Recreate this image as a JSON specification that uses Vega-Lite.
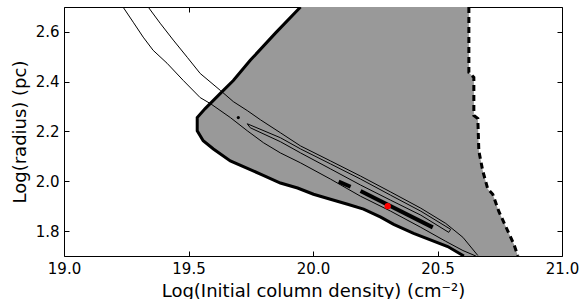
{
  "$schema": "https://vega.github.io/schema/vega-lite/v6.json",
  "width": 498,
  "height": 249,
  "autosize": "none",
  "padding": {"left": 64, "top": 7, "right": 26, "bottom": 43},
  "background": "white",
  "config": {
    "view": {"stroke": null},
    "font": "DejaVu Sans",
    "axis": {
      "labelFont": "DejaVu Sans", "labelFontSize": 15, "labelColor": "black",
      "titleFont": "DejaVu Sans", "titleFontSize": 18, "titleFontWeight": "normal", "titleColor": "black",
      "tickColor": "black", "tickSize": -5, "tickWidth": 1,
      "domainColor": "black", "domainWidth": 1, "grid": false,
      "labelPadding": 10, "labelFlush": false, "labelOverlap": false, "zindex": 1
    }
  },
  "datasets": {
    "region": [
      {"o": 1, "x": 19.950, "y": 2.700},
      {"o": 2, "x": 20.626, "y": 2.700},
      {"o": 3, "x": 20.626, "y": 2.437},
      {"o": 4, "x": 20.646, "y": 2.417},
      {"o": 5, "x": 20.646, "y": 2.264},
      {"o": 6, "x": 20.662, "y": 2.252},
      {"o": 7, "x": 20.666, "y": 2.122},
      {"o": 8, "x": 20.682, "y": 2.041},
      {"o": 9, "x": 20.702, "y": 1.969},
      {"o": 10, "x": 20.722, "y": 1.948},
      {"o": 11, "x": 20.746, "y": 1.880},
      {"o": 12, "x": 20.783, "y": 1.799},
      {"o": 13, "x": 20.807, "y": 1.747},
      {"o": 14, "x": 20.823, "y": 1.700},
      {"o": 15, "x": 20.606, "y": 1.700},
      {"o": 16, "x": 20.541, "y": 1.738},
      {"o": 17, "x": 20.404, "y": 1.791},
      {"o": 18, "x": 20.324, "y": 1.827},
      {"o": 19, "x": 20.272, "y": 1.856},
      {"o": 20, "x": 20.203, "y": 1.888},
      {"o": 21, "x": 20.139, "y": 1.908},
      {"o": 22, "x": 20.070, "y": 1.928},
      {"o": 23, "x": 20.002, "y": 1.948},
      {"o": 24, "x": 19.938, "y": 1.973},
      {"o": 25, "x": 19.869, "y": 1.993},
      {"o": 26, "x": 19.789, "y": 2.029},
      {"o": 27, "x": 19.668, "y": 2.082},
      {"o": 28, "x": 19.600, "y": 2.130},
      {"o": 29, "x": 19.559, "y": 2.163},
      {"o": 30, "x": 19.535, "y": 2.203},
      {"o": 31, "x": 19.535, "y": 2.256},
      {"o": 32, "x": 19.567, "y": 2.292},
      {"o": 33, "x": 19.628, "y": 2.353},
      {"o": 34, "x": 19.680, "y": 2.405},
      {"o": 35, "x": 19.748, "y": 2.486},
      {"o": 36, "x": 19.849, "y": 2.595}
    ],
    "solid": [
      {"o": 1, "x": 19.950, "y": 2.700},
      {"o": 2, "x": 19.849, "y": 2.595},
      {"o": 3, "x": 19.748, "y": 2.486},
      {"o": 4, "x": 19.680, "y": 2.405},
      {"o": 5, "x": 19.628, "y": 2.353},
      {"o": 6, "x": 19.567, "y": 2.292},
      {"o": 7, "x": 19.535, "y": 2.256},
      {"o": 8, "x": 19.535, "y": 2.203},
      {"o": 9, "x": 19.559, "y": 2.163},
      {"o": 10, "x": 19.600, "y": 2.130},
      {"o": 11, "x": 19.668, "y": 2.082},
      {"o": 12, "x": 19.789, "y": 2.029},
      {"o": 13, "x": 19.869, "y": 1.993},
      {"o": 14, "x": 19.938, "y": 1.973},
      {"o": 15, "x": 20.002, "y": 1.948},
      {"o": 16, "x": 20.070, "y": 1.928},
      {"o": 17, "x": 20.139, "y": 1.908},
      {"o": 18, "x": 20.203, "y": 1.888},
      {"o": 19, "x": 20.272, "y": 1.856},
      {"o": 20, "x": 20.324, "y": 1.827},
      {"o": 21, "x": 20.404, "y": 1.791},
      {"o": 22, "x": 20.541, "y": 1.738},
      {"o": 23, "x": 20.606, "y": 1.700}
    ],
    "dashed": [
      {"o": 1, "x": 20.626, "y": 2.700},
      {"o": 2, "x": 20.626, "y": 2.437},
      {"o": 3, "x": 20.646, "y": 2.417},
      {"o": 4, "x": 20.646, "y": 2.264},
      {"o": 5, "x": 20.662, "y": 2.252},
      {"o": 6, "x": 20.666, "y": 2.122},
      {"o": 7, "x": 20.682, "y": 2.041},
      {"o": 8, "x": 20.702, "y": 1.969},
      {"o": 9, "x": 20.722, "y": 1.948},
      {"o": 10, "x": 20.746, "y": 1.880},
      {"o": 11, "x": 20.783, "y": 1.799},
      {"o": 12, "x": 20.807, "y": 1.747},
      {"o": 13, "x": 20.823, "y": 1.700}
    ],
    "contours": [
      {"id": "B", "o": 1, "x": 19.338, "y": 2.700},
      {"id": "B", "o": 2, "x": 19.386, "y": 2.635},
      {"id": "B", "o": 3, "x": 19.439, "y": 2.567},
      {"id": "B", "o": 4, "x": 19.495, "y": 2.498},
      {"id": "B", "o": 5, "x": 19.547, "y": 2.433},
      {"id": "B", "o": 6, "x": 19.628, "y": 2.365},
      {"id": "B", "o": 7, "x": 19.680, "y": 2.320},
      {"id": "B", "o": 8, "x": 19.736, "y": 2.284},
      {"id": "B", "o": 9, "x": 19.789, "y": 2.247},
      {"id": "B", "o": 10, "x": 19.869, "y": 2.195},
      {"id": "B", "o": 11, "x": 19.950, "y": 2.142},
      {"id": "B", "o": 12, "x": 20.070, "y": 2.082},
      {"id": "B", "o": 13, "x": 20.191, "y": 2.021},
      {"id": "B", "o": 14, "x": 20.312, "y": 1.957},
      {"id": "B", "o": 15, "x": 20.433, "y": 1.892},
      {"id": "B", "o": 16, "x": 20.533, "y": 1.831},
      {"id": "B", "o": 17, "x": 20.602, "y": 1.775},
      {"id": "B", "o": 18, "x": 20.662, "y": 1.702},
      {"id": "A", "o": 1, "x": 19.237, "y": 2.700},
      {"id": "A", "o": 2, "x": 19.278, "y": 2.639},
      {"id": "A", "o": 3, "x": 19.318, "y": 2.579},
      {"id": "A", "o": 4, "x": 19.358, "y": 2.526},
      {"id": "A", "o": 5, "x": 19.414, "y": 2.474},
      {"id": "A", "o": 6, "x": 19.479, "y": 2.405},
      {"id": "A", "o": 7, "x": 19.547, "y": 2.336},
      {"id": "A", "o": 8, "x": 19.588, "y": 2.312},
      {"id": "A", "o": 9, "x": 19.668, "y": 2.256},
      {"id": "A", "o": 10, "x": 19.736, "y": 2.203},
      {"id": "A", "o": 11, "x": 19.801, "y": 2.155},
      {"id": "A", "o": 12, "x": 19.869, "y": 2.114},
      {"id": "A", "o": 13, "x": 19.950, "y": 2.074},
      {"id": "A", "o": 14, "x": 20.070, "y": 2.009},
      {"id": "A", "o": 15, "x": 20.191, "y": 1.940},
      {"id": "A", "o": 16, "x": 20.312, "y": 1.880},
      {"id": "A", "o": 17, "x": 20.433, "y": 1.815},
      {"id": "A", "o": 18, "x": 20.533, "y": 1.759},
      {"id": "A", "o": 19, "x": 20.602, "y": 1.722},
      {"id": "A", "o": 20, "x": 20.654, "y": 1.700},
      {"id": "P", "o": 1, "x": 19.736, "y": 2.231},
      {"id": "P", "o": 2, "x": 19.869, "y": 2.175},
      {"id": "P", "o": 3, "x": 19.950, "y": 2.130},
      {"id": "P", "o": 4, "x": 20.070, "y": 2.070},
      {"id": "P", "o": 5, "x": 20.191, "y": 2.009},
      {"id": "P", "o": 6, "x": 20.312, "y": 1.944},
      {"id": "P", "o": 7, "x": 20.433, "y": 1.880},
      {"id": "P", "o": 8, "x": 20.553, "y": 1.807},
      {"id": "P", "o": 9, "x": 20.545, "y": 1.795},
      {"id": "P", "o": 10, "x": 20.433, "y": 1.864},
      {"id": "P", "o": 11, "x": 20.312, "y": 1.924},
      {"id": "P", "o": 12, "x": 20.191, "y": 1.985},
      {"id": "P", "o": 13, "x": 20.070, "y": 2.050},
      {"id": "P", "o": 14, "x": 19.950, "y": 2.114},
      {"id": "P", "o": 15, "x": 19.869, "y": 2.159},
      {"id": "P", "o": 16, "x": 19.748, "y": 2.215},
      {"id": "P", "o": 17, "x": 19.736, "y": 2.231}
    ],
    "blobs": [
      {"id": "s1", "o": 1, "x": 20.103, "y": 1.999},
      {"id": "s1", "o": 2, "x": 20.151, "y": 1.978},
      {"id": "s2", "o": 1, "x": 20.191, "y": 1.961},
      {"id": "s2", "o": 2, "x": 20.481, "y": 1.815}
    ],
    "dots": [{"x": 19.700, "y": 2.256}],
    "best": [{"x": 20.3, "y": 1.9}]
  },
  "layer": [
    {
      "data": {"name": "region"},
      "mark": {"type": "line", "fill": "#999999", "stroke": null, "strokeWidth": 0, "clip": true},
      "encoding": {
        "x": {"field": "x", "type": "quantitative", "scale": {"domain": [19, 21], "nice": false, "zero": false},
              "axis": {"orient": "bottom", "values": [19, 19.5, 20, 20.5, 21], "format": ".1f", "title": "Log(Initial column density) (cm⁻²)", "titlePadding": 6}},
        "y": {"field": "y", "type": "quantitative", "scale": {"domain": [1.7, 2.7], "nice": false, "zero": false},
              "axis": {"orient": "left", "values": [1.8, 2.0, 2.2, 2.4, 2.6], "format": ".1f", "title": "Log(radius) (pc)", "titlePadding": 6}},
        "order": {"field": "o", "type": "quantitative"}
      }
    },
    {
      "data": {"name": "solid"},
      "mark": {"type": "line", "color": "black", "strokeWidth": 3, "clip": true},
      "encoding": {
        "x": {"field": "x", "type": "quantitative", "axis": null},
        "y": {"field": "y", "type": "quantitative", "axis": null},
        "order": {"field": "o", "type": "quantitative"}
      }
    },
    {
      "data": {"name": "dashed"},
      "mark": {"type": "line", "color": "black", "strokeWidth": 3, "strokeDash": [6, 4], "clip": true},
      "encoding": {
        "x": {"field": "x", "type": "quantitative", "axis": null},
        "y": {"field": "y", "type": "quantitative", "axis": null},
        "order": {"field": "o", "type": "quantitative"}
      }
    },
    {
      "data": {"name": "contours"},
      "mark": {"type": "line", "color": "black", "strokeWidth": 1, "clip": true},
      "encoding": {
        "x": {"field": "x", "type": "quantitative", "axis": null},
        "y": {"field": "y", "type": "quantitative", "axis": null},
        "detail": {"field": "id"},
        "order": {"field": "o", "type": "quantitative"}
      }
    },
    {
      "data": {"name": "blobs"},
      "mark": {"type": "line", "color": "black", "strokeWidth": 4, "clip": true},
      "encoding": {
        "x": {"field": "x", "type": "quantitative", "axis": null},
        "y": {"field": "y", "type": "quantitative", "axis": null},
        "detail": {"field": "id"},
        "order": {"field": "o", "type": "quantitative"}
      }
    },
    {
      "data": {"name": "dots"},
      "mark": {"type": "point", "filled": true, "color": "black", "size": 10, "opacity": 1},
      "encoding": {
        "x": {"field": "x", "type": "quantitative", "axis": null},
        "y": {"field": "y", "type": "quantitative", "axis": null}
      }
    },
    {
      "data": {"name": "best"},
      "mark": {"type": "point", "shape": "circle", "filled": true, "color": "#ff0000", "size": 40, "opacity": 1},
      "encoding": {
        "x": {"field": "x", "type": "quantitative",
              "axis": {"orient": "top", "values": [19, 19.5, 20, 20.5, 21], "labels": false, "title": null}},
        "y": {"field": "y", "type": "quantitative",
              "axis": {"orient": "right", "values": [1.8, 2.0, 2.2, 2.4, 2.6], "labels": false, "title": null}}
      }
    }
  ],
  "resolve": {"axis": {"x": "independent", "y": "independent"}}
}
